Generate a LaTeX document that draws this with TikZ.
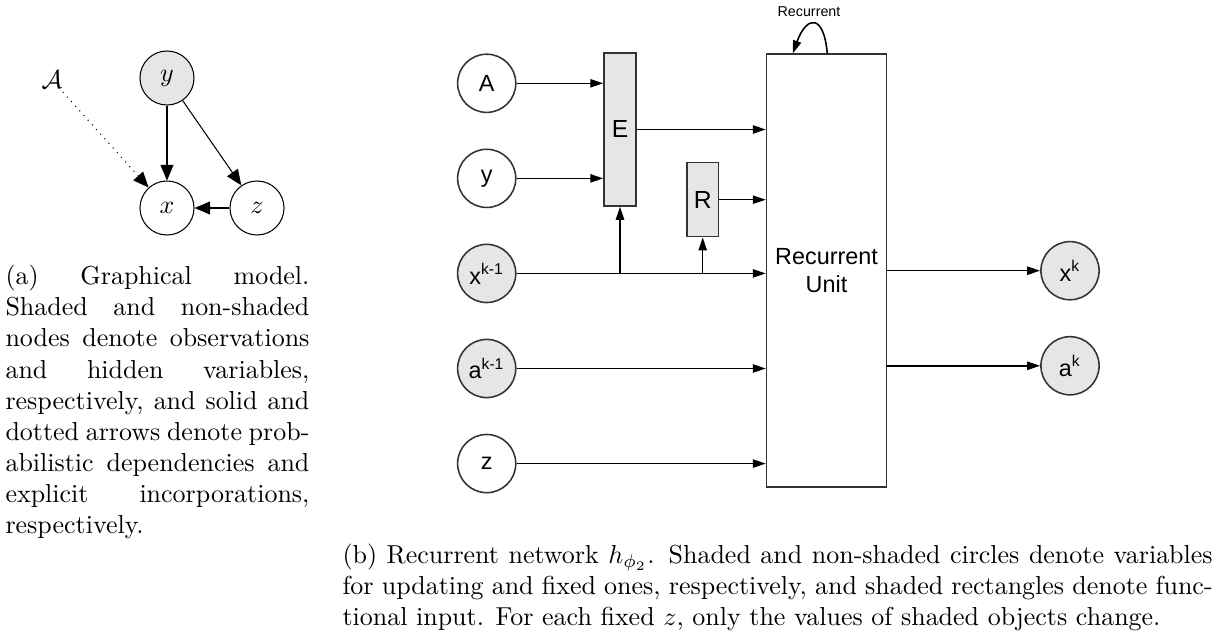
\documentclass[tikz,border=0pt]{standalone}
\usepackage{fontspec}
\newfontfamily\diagfont{Liberation Sans}
\definecolor{nodeGray}{HTML}{E6E6E6}
\definecolor{lineGray}{HTML}{333333}
\usetikzlibrary{arrows.meta, positioning}

\begin{document}
\begin{tikzpicture}[x=0.385pt, y=-0.385pt,
  node distance=13.6pt,
  var/.style={circle, draw, thin, minimum size=20.8pt, inner sep=0pt},
  obs/.style={var, fill=nodeGray},
  invar/.style={circle, draw=lineGray, line width=0.6pt, minimum size=22.4pt, inner sep=0pt,
                font=\diagfont\fontsize{9}{10}\selectfont},
  upd/.style={invar, fill=nodeGray},
  func/.style={rectangle, draw=lineGray, fill=nodeGray, line width=0.6pt, minimum width=12.3pt,
               inner sep=0pt, font=\diagfont\fontsize{9.5}{11}\selectfont},
  unit/.style={rectangle, draw=lineGray, line width=0.6pt, minimum width=45pt, minimum height=166.5pt,
               align=center, font=\diagfont\fontsize{9}{10.8}\selectfont},
  captext/.style={anchor=north west, inner sep=0pt, align=justify, font=\normalsize},
  pm/.style={-{Triangle[length=6pt, width=5pt]}, thin},
  arr/.style={-{Triangle[length=5pt, width=3.2pt]}, line width=0.6pt}
]
  \useasboundingbox (0,0) rectangle (1218,633);

  \node[obs] (y) at (167,78) {$y$};
  \node[var] (x) at (167,208) {$x$};
  \node[var] (z) at (257,208) {$z$};
  \node[inner sep=1pt] (acal) at (52,80) {$\mathcal{A}$};

  \draw[pm] (y) -- (x);
  \draw[pm] (y) -- (z);
  \draw[pm] (z) -- (x);
  \draw[pm, dotted] (acal) -- (x);

  \node[captext, text width=117pt] (capa) at (5,264.5) {(a) Graphical model. Shaded and non-shaded
    nodes denote observations and hidden variables, respectively, and solid and dotted arrows
    denote probabilistic dependencies and explicit incorporations, respectively.};

  \node[invar] (A) at (486.7,83.3) {A};
  \node[invar, below=of A] (yin) {y};
  \node[upd, below=of yin] (xprev) {x\textsuperscript{k-1}};
  \node[upd, below=of xprev] (aprev) {a\textsuperscript{k-1}};
  \node[invar, below=of aprev] (zin) {z};
  \node[func, minimum height=58.9pt] (E) at (620,129.5) {E};
  \node[func, minimum height=28.5pt] (R) at (702.7,199.7) {R};
  \node[unit] (RU) at (826.5,270.5) {Recurrent\\Unit};
  \node[upd] (xk) at (1070,270.7) {x\textsuperscript{k}};
  \node[upd, below=of xk] (ak) {a\textsuperscript{k}};
  \node[font=\diagfont\fontsize{5.5}{6}\selectfont] (loop) at (809,12) {Recurrent};

  \draw[arr] (A) -- (A -| E.west);
  \draw[arr] (yin) -- (yin -| E.west);
  \draw[arr] (E) -- (E -| RU.west);
  \draw[arr] (R) -- (R -| RU.west);
  \draw[arr] (xprev) -| (E);
  \draw[arr] (xprev) -| (R);
  \draw[arr] (xprev) -- (xprev -| RU.west);
  \draw[arr] (aprev) -- (aprev -| RU.west);
  \draw[arr] (zin) -- (zin -| RU.west);
  \draw[arr] (xk -| RU.east) -- (xk);
  \draw[arr] (ak -| RU.east) -- (ak);
  \draw[arr] ([xshift=0.3pt]RU.north) to[out=95, in=70, looseness=3] ([xshift=-13pt]RU.north);

  \node[captext, text width=335pt] (capb) at (342,543.5) {(b) Recurrent network $h_{\phi_2}$. Shaded and
    non-shaded circles denote variables for updating and fixed ones, respectively, and shaded
    rectangles denote functional input. For each fixed $z$, only the values of shaded objects change.};
\end{tikzpicture}
\end{document}
